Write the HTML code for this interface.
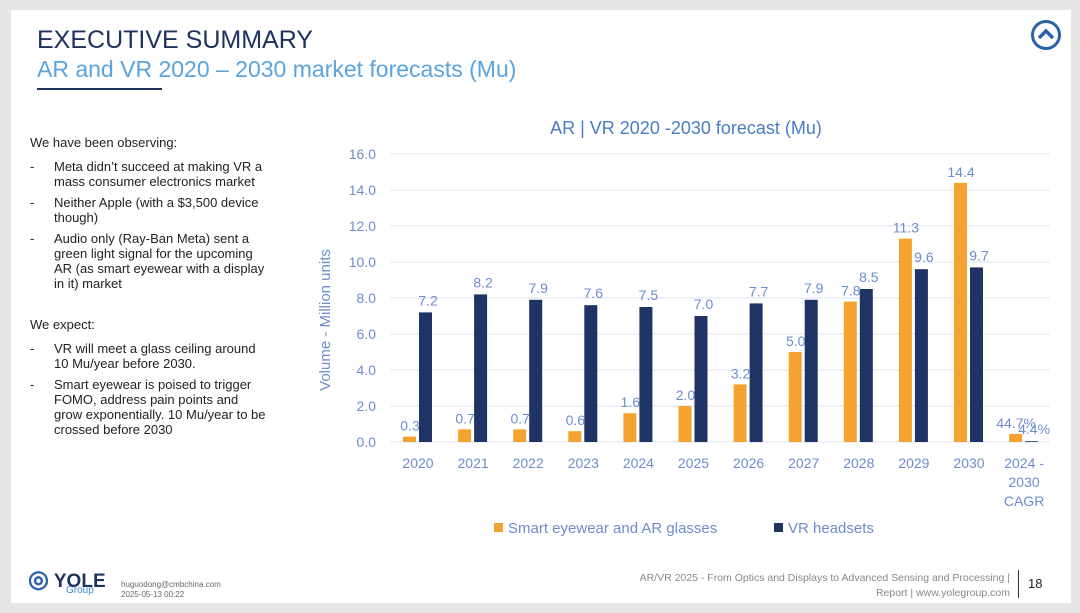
<!DOCTYPE html>
<html><head><meta charset="utf-8"><style>
body{margin:0;width:1080px;height:613px;background:#e6e6e6;font-family:"Liberation Sans",sans-serif;position:relative;overflow:hidden}
#slide{position:absolute;left:11px;top:10px;width:1060px;height:593px;background:#fff}
.t{position:absolute;white-space:nowrap}
ul{list-style:none;margin:0;padding:0}
li{position:relative;padding-left:24px;margin:0 0 6px 0;line-height:15px;width:212px}
li:before{content:"-";position:absolute;left:0}
</style></head><body>
<div id="slide"></div>
<div class="t" style="left:37px;top:26px;font-size:25px;color:#1f3260">EXECUTIVE SUMMARY</div>
<div class="t" style="left:37px;top:56px;font-size:23px;color:#5ba3dc">AR and VR 2020 – 2030 market forecasts (Mu)</div>
<div style="position:absolute;left:37px;top:88px;width:125px;height:2px;background:#1f3260"></div>
<svg style="position:absolute;left:1030px;top:19px" width="32" height="32"><circle cx="16" cy="16" r="13.5" fill="none" stroke="#2a62a8" stroke-width="3"/><path d="M9 19 L16 12 L23 19" fill="none" stroke="#2a62a8" stroke-width="3.5"/></svg>
<div style="position:absolute;left:30px;top:135px;font-size:13px;color:#222">
<div style="margin-bottom:9px">We have been observing:</div>
<ul><li>Meta didn’t succeed at making VR a mass consumer electronics market</li>
<li>Neither Apple (with a $3,500 device though)</li>
<li>Audio only (Ray-Ban Meta) sent a green light signal for the upcoming AR (as smart eyewear with a display in it) market</li></ul>
<div style="margin:26px 0 9px">We expect:</div>
<ul><li>VR will meet a glass ceiling around 10 Mu/year before 2030.</li>
<li>Smart eyewear is poised to trigger FOMO, address pain points and grow exponentially. 10 Mu/year to be crossed before 2030</li></ul></div>
<svg id="chart" width="1080" height="613" style="position:absolute;left:0;top:0" font-family="Liberation Sans, sans-serif"></svg>
<div class="t" style="left:28px;top:565px;font-size:19px;font-weight:bold;color:#1f3260"><span style="color:#2a62a8;font-size:24px">◎</span> YOLE<div style="position:absolute;left:38px;top:20px;font-size:10px;font-weight:normal;color:#3a8ad0">Group</div></div>
<div class="t" style="left:121px;top:580px;font-size:8px;color:#666;line-height:10px">huguodong@cmbchina.com<br>2025-05-13 00:22</div>
<div class="t" style="right:70px;top:571px;font-size:10.5px;color:#888;text-align:right;line-height:15px">AR/VR 2025 - From Optics and Displays to Advanced Sensing and Processing |<br>Report | www.yolegroup.com</div>
<div style="position:absolute;left:1018px;top:570px;width:1px;height:28px;background:#333"></div>
<div class="t" style="left:1028px;top:576px;font-size:13px;color:#222">18</div>
<script>
const categories=["2020","2021","2022","2023","2024","2025","2026","2027","2028","2029","2030","2024 -|2030|CAGR"];
const arValues=[0.3,0.7,0.7,0.6,1.6,2.0,3.2,5.0,7.8,11.3,14.4,0.447];
const vrValues=[7.2,8.2,7.9,7.6,7.5,7.0,7.7,7.9,8.5,9.6,9.7,0.044];
const arLabels=["0.3","0.7","0.7","0.6","1.6","2.0","3.2","5.0","7.8","11.3","14.4","44.7%"];
const vrLabels=["7.2","8.2","7.9","7.6","7.5","7.0","7.7","7.9","8.5","9.6","9.7","4.4%"];
const yTicks=[0,2,4,6,8,10,12,14,16];
const svg=document.getElementById('chart');const NS='http://www.w3.org/2000/svg';
const y=v=>442-v*18;const x=i=>418+i*55.1;
function mk(t,a,txt){const e=document.createElementNS(NS,t);for(const k in a)e.setAttribute(k,a[k]);if(txt!==undefined)e.textContent=txt;svg.appendChild(e);return e;}
const ttl=mk('text',{x:686,y:134,'text-anchor':'middle','font-size':18,fill:'#4a7cc4'},'AR | VR 2020 -2030 forecast (Mu)');

const yt=mk('text',{transform:'translate(330,320) rotate(-90)','text-anchor':'middle','font-size':15,fill:'#6e8ccc'},'Volume - Million units');

yTicks.forEach(v=>{const g=mk('line',{x1:390,x2:1050,y1:y(v),y2:y(v),stroke:'#dde3f0','stroke-width':1});

const t=mk('text',{x:376,y:y(v)+5,'text-anchor':'end','font-size':14,fill:'#6e8ccc'},v.toFixed(1));
});
categories.forEach((c,i)=>{const cx=x(i);
const a=mk('rect',{x:cx-15,y:y(arValues[i]),width:13,height:arValues[i]*18,fill:'#f5a330'});

const b=mk('rect',{x:cx+1,y:y(vrValues[i]),width:13,height:vrValues[i]*18,fill:'#1f3464'});

const la=mk('text',{x:cx-8,y:y(arValues[i])-6,'text-anchor':'middle','font-size':14,fill:'#6e8ccc'},arLabels[i]);

const lb=mk('text',{x:cx+10,y:y(vrValues[i])-7,'text-anchor':'middle','font-size':14,fill:'#6e8ccc'},vrLabels[i]);

c.split('|').forEach((p,j)=>{const t=mk('text',{x:cx,y:468+j*19,'text-anchor':'middle','font-size':14,fill:'#6e8ccc'},p);
});});
const l1=mk('rect',{x:494,y:523,width:9,height:9,fill:'#f5a330'});
const l2=mk('text',{x:508,y:533,'font-size':15,fill:'#6e8ccc'},'Smart eyewear and AR glasses');
const l3=mk('rect',{x:774,y:523,width:9,height:9,fill:'#1f3464'});
const l4=mk('text',{x:788,y:533,'font-size':15,fill:'#6e8ccc'},'VR headsets');
</script></body></html>
